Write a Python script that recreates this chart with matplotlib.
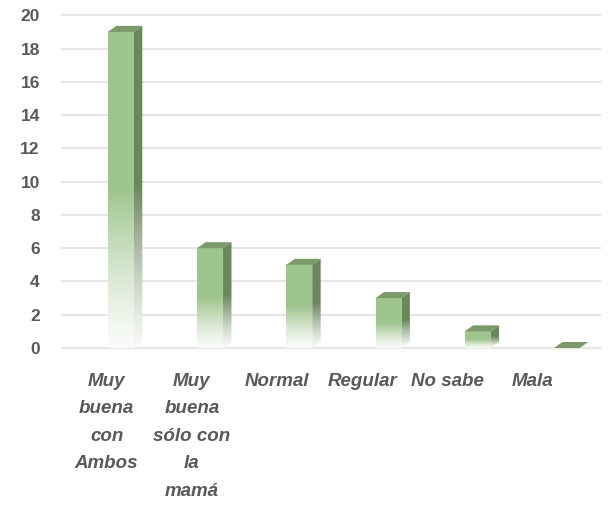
import numpy as np
import matplotlib.pyplot as plt
from matplotlib.patches import Polygon

categories = ["Muy\nbuena\ncon\nAmbos", "Muy\nbuena\nsólo con\nla\nmamá", "Normal", "Regular", "No sabe", "Mala"]
values = [19, 6, 5, 3, 1, 0]
yticks = list(range(0, 21, 2))

plt.rcParams['font.family'] = ['Liberation Sans', 'DejaVu Sans']

fig = plt.figure(figsize=(6.14, 5.08), dpi=100)
ax = fig.add_axes([0.101, 0.315, 0.876, 0.655])
XL = (-0.66, 5.37)
YL = (0, 20)

for y in yticks:
    ax.axhline(y, color='#e6e6e6', lw=1.5, zorder=0, clip_on=False)

w, dx, dy = 0.29, 0.095, 0.36
front_c = np.array([157, 196, 140]) / 255
side_c = np.array([104, 134, 90]) / 255
top_c = np.array([122, 154, 106]) / 255
white = np.array([1.0, 1.0, 1.0])


def grad(color, n=256):
    t = np.linspace(0, 1, n)
    f = np.clip(t / 0.5, 0, 1) ** 1.3 * 0.92 + 0.06
    rgb = white[None, :] * (1 - f[:, None]) + color[None, :] * f[:, None]
    img = np.ones((n, 2, 4))
    img[:, :, :3] = rgb[:, None, :]
    return img


for i, v in enumerate(values):
    x = i
    if v > 0:
        im = ax.imshow(grad(front_c), extent=[x - w / 2, x + w / 2, 0, v], origin='lower',
                       aspect='auto', interpolation='bilinear', zorder=3)
        poly = Polygon([(x + w / 2, 0), (x + w / 2 + dx, dy), (x + w / 2 + dx, v + dy), (x + w / 2, v)],
                       closed=True, transform=ax.transData, facecolor='none', edgecolor='none')
        ax.add_patch(poly)
        im2 = ax.imshow(grad(side_c), extent=[x + w / 2, x + w / 2 + dx, 0, v + dy], origin='lower',
                        aspect='auto', interpolation='bilinear', zorder=2)
        im2.set_clip_path(poly)
    ax.add_patch(Polygon([(x - w / 2, v), (x + w / 2, v), (x + w / 2 + dx, v + dy), (x - w / 2 + dx, v + dy)],
                         closed=True, facecolor=top_c, edgecolor='none', zorder=4, clip_on=False))

ax.set_xlim(*XL)
ax.set_ylim(*YL)
for s in ax.spines.values():
    s.set_visible(False)

tickpos = [0.956 * i - 0.16 for i in range(len(categories))]
ax.set_xticks(tickpos)
ax.set_xticklabels(categories, fontsize=13.5, fontweight='bold', fontstyle='italic',
                   color='#595959', linespacing=1.8, va='top')
ax.set_yticks(yticks)
ax.set_yticklabels([str(t) for t in yticks], fontsize=12.5, fontweight='bold', color='#595959')
ax.tick_params(axis='both', length=0)
ax.tick_params(axis='x', pad=18)
ax.tick_params(axis='y', pad=16)

fig.savefig('out.png', dpi=100, facecolor='white')
